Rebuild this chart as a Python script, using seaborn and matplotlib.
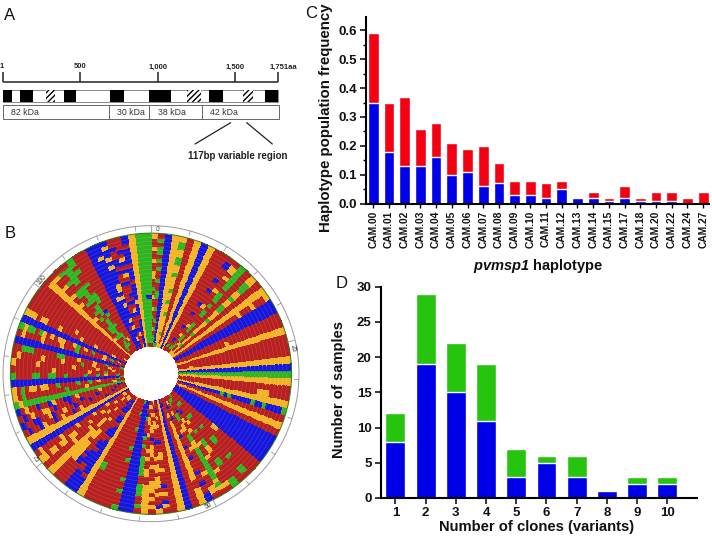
import numpy as np
import pandas as pd
import seaborn as sns
import matplotlib as mpl
import matplotlib.pyplot as plt
from matplotlib.colors import ListedColormap
from matplotlib.patches import Rectangle

W, H = 712, 536

# panel C
haplotypes = ["CAM.00", "CAM.01", "CAM.02", "CAM.03", "CAM.04", "CAM.05", "CAM.06", "CAM.07",
              "CAM.08", "CAM.09", "CAM.10", "CAM.11", "CAM.12", "CAM.13", "CAM.14", "CAM.15",
              "CAM.17", "CAM.18", "CAM.20", "CAM.22", "CAM.24", "CAM.27"]
freq_total = [.59, .35, .37, .26, .28, .21, .19, .20, .14, .08, .08, .07, .08, .02, .04, .02, .06, .02, .04, .04, .02, .04]
freq_blue = [.35, .18, .13, .13, .16, .10, .11, .06, .07, .03, .03, .02, .05, .02, .02, .01, .02, .01, .01, .01, 0, 0]

# panel D
clones = ["1", "2", "3", "4", "5", "6", "7", "8", "9", "10"]
samples_blue = [8, 19, 15, 11, 3, 5, 3, 1, 2, 2]
samples_green = [4, 10, 7, 8, 4, 1, 3, 0, 1, 1]

# panel A
scale_ticks = [8, 241, 473, 705, 835]
scale_labels = ["1", "500", "1,000", "1,500", "1,751aa"]
black_blocks = [(10, 37), (60, 100), (192, 229), (331, 371), (448, 513), (628, 668), (795, 835)]
hatch_blocks = [(137, 165), (562, 603), (730, 758)]
kda_dividers = [327, 448, 607]
kda_labels = ["82 kDa", "30 kDa", "38 kDa", "42 kDa"]
kda_label_x = [74, 393, 515, 673]

# panel B: one string per position (117), read inner ring to outer ring (28)
spokes = [
    "RGRRYRRGRYRRYRGRRYYRRYRRYRRY", "RGGRGRGRRGRRGGRRGRRGRGRGGRGR", "GBBBBBBBBBBBBBBBBBBBBBBBBBBB",
    "GYYYYYYYYYYYYYYYYYYYYYYYYYYY", "YYYGYYYYGYYGYYGYYYGYYGGYYGGY", "YRRRRRRRRRRRRRRRRRRRRRRRRRRR",
    "YYYYYYYYYYYYYYYYYYYYYYYYYYYY", "BBBBBBBBBBBBBBBBBBBBBBBBBBBB", "YYYYYYYYYYYYYYYYYYYYYYYYYYYY",
    "RBRRRRRRRRRRRRRRRRRRRRRRRRRR", "RGRRRRRRRRRRRRRRRRRRRRRRRRRR", "RRRBRRRBRRRBRRBRRRBRRBRRRBBR",
    "RGRRRYRRYRRRRRYRRRRYRRRYRYYR", "RGGRGGRGGGRRGGRGRGGGRGGGGGGG", "YRRYRRRRRRRRRRRRRRRRRRRRRRRR",
    "YYYGYYYGYYYYGYYYGGYYGYYGGGYY", "YRRRRRRRRRRRRRRRRRRRRRRRRRRR", "YYYYYYYYYYYYYYYYYYYYYYYYYYYY",
    "RRRRRRRRRRRRRRRRRRRYRRRYRRRY", "BBBBBBBBBBBBBBBBBBBBBBBBBBBB", "BBBBBBBBBBBBBBBBBBBBBBBBBBBB",
    "RRRRRRRRRRRRRRRRRRRRRRRRRRRR", "RRRRRRRRRRRRRYRRRRRRRRRRRRRR", "YYYYYYYYYYYYYYYYYYYYYYYYYYYY",
    "RRRRRRRRRRRRRRRRRRRRRRRRRRRR", "RRRRRRRRRRRRRRRRRRRRRRRRRRRR", "RRRYRRRRRRRRRRRRRRRRRRRRRRRR",
    "YYYYYYYYYYYYYYYYYYYYYYYYYYYY", "BBBBBBBBBBBBBBBBBBBBBBBBBBBB", "GGGGGGGGGGGGGGGGGGGGGGGGGGGG",
    "YYYYYYYYYYYYYYYYYYYYYYYYYYYY", "RRRRRRRRRRRRRRRRRRRRRRRRRRRR", "RRRRRRRRRRRRRRRRRRRRYYYRRRRR",
    "YYYYYYYYYYYYYYYYYYYYYYYYYYYY", "BBBBBBBBBBBGBGBBBBBGBBGBBBBG", "RRRRRRRRRRRRRRRRRRRRRRRRRRRR",
    "YYYYYYYYYYYYYYYYYYYYYYYYYYYY", "RRRRRRRRRRRRRRRRRRRRRRRRRRRR", "BBBBBBBBBBBBBBBBBBBBBBBBBBBB",
    "BBBBBBBBBBBBBBBBBBBBBBBBBBBB", "BBBBBBBBBBBBBBBBBBBBBBBBBBBB", "BBBBBBBBBBBBBBBBBBBBBBBBBBBB",
    "RRRRRRRRRRRRRYYRRRRRRRRRRRRR", "RRRRRRRRRRRRRRRRRRRRRRRRRRRR", "RRRGRRRGRRRGRRRGGRRRRGRRRGGR",
    "GRRGRRRGRRRRRRRRRRRRRRRRRRRR", "RGRRRBRRYRRGRRGGYYRRGGRRRRGG", "RGRRBRRYRRYRRRYRRRYRRRYRRRYR",
    "RRGRRGGRYYRGGYYGGGGGGGGGYGYR", "RYRRYRRRRYRRRRYRRRRRRYRRRYYR", "RRBRRBRRRRBRRBRRBRRRBRRBRRBB",
    "RRRRYRYYYYYYYYYYYYYYYYRRYYYY", "RBRRRRRRRRRRRRRRRRRRRRRRRRRR", "BBBBBBBBBBBBBBBBBBBBBBBBBBBB",
    "YYYYYYYYYYYYYYYYYYYYYYYYYYYY", "BRRRRRRRRRRRRRRRRRRRRRRRRRRR", "RRBRYRYRRRBRRYYRRYRRRBRYRBYR",
    "YRRYRYYRRRBRRRYRYYRYYYRYRRBY", "RYRYRRYYRBRYYYRRYRRRYYYRYRYR", "RYRRYYRRYRRRYRYRRYYRRYYYYYYY",
    "BBRBGRRRBGRGRRGGGGGRRGGGRRGR", "BBBBBBBBBBBBBBBBBBBBBBBBBBBB", "GBBBBBBBBBBBBBBBBBBBBBBBBBBB",
    "RRRGRRRGRRRRGRRGRRRRGRRGRRRG", "RRRRRRRRRRRRRRRRRRRRRRRRRRRR", "RRRRRRRRRRRRRRRRRRRRRRRRRRRR",
    "RRRRRRRRRRRRRRRRRRRRRRRRRRRR", "RRRRRRRRRRRRRRRRRRGGRRRRRRRR", "YYYYYYYYYYYYYYYYYYYYYYYYYYYY",
    "RBBBBRBBRBBBRBBBBBBBBBBRBBBB", "RBRBBRBBRRBBRRBBRBBBBRRBBBBB", "RRBRBRRRRRRRRRRRRRBRBBRRRRRR",
    "RYRRRRRRYRRRYYYRYYYYYYRRRRRR", "RYRRRYRRRYYYRYYYYYYYYYYYYYYY", "RRYRRRRYRRRRRYRRRRYRRRRRRRRR",
    "RYRRYRRRYRRRYRRRRYYRYYRYYRYY", "RYRRRRYRRRYRRRRYRRRRYRRRRRYR", "BBBBBBBBBBBBBBBBBBBBBBBBBBBB",
    "YYYYYYYYYYYYYYYYYYYYYYYYYYYY", "RRRRRBRRRRRRYRBRRYRBRRYBRRBR", "RRRBRRRRRBRRRBRRYRRBYRRBBRRB",
    "RRBRRRRBRRRBRRBRRRBRYYRRYRBR", "RBRRRRYRRRRRYRBBRRYBRRBRRYRB", "GGGGGGGGGGGGGGGGGGGGGGGGGGYG",
    "RRYRRRRRRYRRRRGRRRRRRRRRRGRY", "RGRRRRYRGRRGRRRRGRRYYRYYRGRY", "GBBBBBBBBBBBBBBBBBBBBBBBBBBB",
    "RGRRYRGRRGRRRRGRRGGRRGGRRRRG", "RRRRGRRRYRRRRRRRRYRRRRRRRRRR", "RRYRRRYRRRRRYRRRRRRRRYRRRRRY",
    "RRRYRRRYRRGRRRRYRRRRYRRRRRYR", "GRRRGRRYRRRYRRRGGRRRRRRGGGRR", "BBBBBBBBBBBBBBBBBBBBBBBBBBBB",
    "RRRRRYRRRRRRGRRRYRRRRYRRRRYR", "RYRGRYRRGRYRGYRRYYRYRYGRGGYG", "BBBBBBBBBBBBBBBBBBBBBBBBBBBB",
    "RRRYRRRRYRRRYRRRRRYRRRYYRYYY", "YRRRRRRRRRRRRRYRRRRRRRRRRRRR", "RRRRRRRRRRRRRRRRRRRRRRRRRRRR",
    "RRRRRRRRRRRRRRRRRRRRRRRRRRRR", "RRRRRRRRRRRRRRRRRRRRRRRRRRRR", "YYYYYYYYYYYYYYYYYYYYYYYYYYYR",
    "RRRRRYRRRRRRYRRRRYRRYRRYRRYR", "RGGRRGRGGRRGRGRRGRRGGRRGRRGR", "RRGGRGGGGGGRGGGRGGGGGRGGGGGR",
    "RRGRGGRRGRRGBRRGGGRRGRRRGRGG", "RRRYRRRRRRRRRRRRRRRRRRRRRRRR", "RRRRRRRRRRRRRRRRRRRRRRRRRRRR",
    "BBBBBBBBBBBBBBBBBBBBBBBBBBBB", "RBBBBRBBBBBBBYBBBBBBBBBBYBBB", "BBYBBYBYBBBYBYBYYBBBBYBYBBYB",
    "RRRRBRRRBRRBRRRRBRRBRBBRRBRR", "YRRYBRRRBYRBRBRRBRYBRBYRBRRR", "BBBRBBBRBBBYBBBBRBBBRBBBBRBB",
    "YYYYYYYYYYYYYYYYYYYYYYYYYYYY", "GGGGGGGGGGGGGGGGGGGGGGGGGGGG", "RGGGGGGGGGGGBGGGGGGGGGGGGGGG",
]
position_labels = [0, 25, 50, 75, 100]

RED_BAR, BLUE_BAR, GREEN_BAR = "#f40012", "#0000e8", "#26c30f"
nuc_colors = {"R": "#b7201f", "Y": "#f4b324", "G": "#30b41f", "B": "#1616dc"}
TXT = "#111111"


def box(l, t, r, b):
    # pixel box to figure fractions
    return [l / W, 1 - b / H, (r - l) / W, (b - t) / H]


sns.set_style("ticks")
plt.rcParams["font.family"] = ["Liberation Sans", "DejaVu Sans"]
plt.rcParams["mathtext.fontset"] = "custom"
plt.rcParams["mathtext.bfit"] = "Liberation Sans:italic:bold"
plt.rcParams["mathtext.rm"] = "Liberation Sans:bold"
plt.rcParams["hatch.linewidth"] = 1.0

fig = plt.figure(figsize=(W / 100, H / 100), dpi=100)

# backdrop in pixels, for panel A and the letters
bg = fig.add_axes([0, 0, 1, 1])
bg.set_xlim(0, W)
bg.set_ylim(H, 0)
bg.axis("off")

for letter, x, y in [("A", 10, 15), ("B", 10, 233), ("C", 311, 14), ("D", 342, 284)]:
    bg.text(x, y, letter, fontsize=12, ha="center", va="center", color=TXT)

bg.plot([8 / 3, 835 / 3], [82, 82], color="#222222", lw=1.1, solid_capstyle="butt")
for t, lab in zip(scale_ticks, scale_labels):
    bg.plot([t / 3, t / 3], [72, 82], color="#222222", lw=1.1, solid_capstyle="butt")
    bg.text(t / 3 + (5 if lab == "1,751aa" else 0) - (1 if lab == "1" else 0), 67, lab,
            fontsize=5.5, fontweight="bold", ha="center", va="center", color="#222222")

bg.add_patch(Rectangle((10 / 3, 90), 825 / 3, 12.3, fc="white", ec="#8a8a8a", lw=0.7))
for a, b in black_blocks:
    bg.add_patch(Rectangle((a / 3, 90), (b - a) / 3, 12.3, fc="black", ec="none"))
for a, b in hatch_blocks:
    bg.add_patch(Rectangle((a / 3, 90), (b - a) / 3, 12.3, fc="white", ec="black", lw=0, hatch="//////"))

bg.add_patch(Rectangle((10 / 3, 105.3), 827 / 3, 13.4, fc="white", ec="#666666", lw=0.7))
for d in kda_dividers:
    bg.plot([d / 3, d / 3], [105.3, 118.7], color="#666666", lw=0.7)
for lab, x in zip(kda_labels, kda_label_x):
    bg.text(x / 3, 112.3, lab, fontsize=6.3, ha="center", va="center", color="#333333")

bg.plot([692 / 3, 585 / 3], [368 / 3, 432 / 3], color="#222222", lw=0.9)
bg.plot([740 / 3, 817 / 3], [368 / 3, 432 / 3], color="#222222", lw=0.9)
bg.text(238, 156, "117bp variable region", fontsize=7, fontweight="bold", ha="center", va="center", color="#222222")

# panel B
pol = fig.add_axes(box(1, 223.7, 301, 523.7), projection="polar")
pol.set_theta_zero_location("N")
pol.set_theta_direction(-1)
pol.set_ylim(0, 150)
pol.axis("off")

letters = list(nuc_colors)
grid = np.array([[letters.index(c) for c in s] for s in spokes]).T
theta_edges = np.deg2rad(np.linspace(0, 360, len(spokes) + 1))
r_edges = np.linspace(28, 140, grid.shape[0] + 1)
pol.pcolormesh(theta_edges, r_edges, grid, cmap=ListedColormap(list(nuc_colors.values())),
               vmin=-0.5, vmax=3.5, edgecolors="face", linewidth=0.25)
# faint ring lines give the fine texture of the original
for r in r_edges[1:-1]:
    pol.plot(np.linspace(0, 2 * np.pi, 240), np.full(240, r), color="white", lw=0.25, alpha=0.3)

circle = np.linspace(0, 2 * np.pi, 400)
pol.plot(circle, np.full(400, 140.6), color="#2f7d22", lw=0.7)
pol.plot(circle, np.full(400, 148), color="#9a9a9a", lw=0.7)
for u in range(0, len(spokes), 5):
    th = u * 2 * np.pi / len(spokes)
    inner = 140 if u in position_labels else 143.5
    pol.plot([th, th], [inner, 148], color="#9a9a9a", lw=0.6)
for u in position_labels:
    th = (u + 0.9) * 2 * np.pi / len(spokes)
    deg = np.rad2deg(th)
    rot = -deg + 180 if 90 < deg < 270 else -deg
    pol.text(th, 144, str(u), fontsize=4.8, color="#333333", rotation=rot, rotation_mode="anchor",
             ha="center", va="center")

# panel C
ax_c = fig.add_axes(box(365.7, 16.7, 709, 203.7))
df_c = pd.DataFrame({"haplotype": haplotypes, "total": freq_total, "blue": freq_blue})
sns.barplot(data=df_c, x="haplotype", y="total", color=RED_BAR, saturation=1, width=0.68, ax=ax_c)
sns.barplot(data=df_c, x="haplotype", y="blue", color=BLUE_BAR, saturation=1, width=0.68, ax=ax_c)
ax_c.set_xlim(-0.48, 21.37)
ax_c.set_ylim(0, 0.647)
ax_c.set_yticks([0, .1, .2, .3, .4, .5, .6])
ax_c.set_yticks(np.arange(0.05, 0.65, 0.1), minor=True)
ax_c.set_yticklabels(["0.0", "0.1", "0.2", "0.3", "0.4", "0.5", "0.6"], fontsize=9.5, fontweight="bold", color=TXT)
ax_c.tick_params(axis="y", which="major", length=4.5, width=1.1, pad=2, color="black")
ax_c.tick_params(axis="y", which="minor", length=2.5, width=1.0, color="black")
ax_c.tick_params(axis="x", length=3, width=1.0, pad=2, color="black")
plt.setp(ax_c.get_xticklabels(), rotation=90, fontsize=7.4, fontweight="bold", color=TXT)
ax_c.set_ylabel("Haplotype population frequency", fontsize=10.8, fontweight="bold", color=TXT)
ax_c.set_xlabel(r"$\mathbfit{pvmsp1}$ haplotype", fontsize=10.5, fontweight="bold", color=TXT)
ax_c.yaxis.set_label_coords(333 / W, 1 - 118 / H, transform=fig.transFigure)
ax_c.xaxis.set_label_coords(538 / W, 1 - 257 / H, transform=fig.transFigure)

# panel D
ax_d = fig.add_axes(box(380.7, 286.7, 696.7, 498))
df_d = pd.DataFrame({"clones": clones, "blue": samples_blue, "green": samples_green})
df_d["total"] = df_d["blue"] + df_d["green"]
sns.barplot(data=df_d, x="clones", y="total", color=GREEN_BAR, saturation=1, width=0.66, ax=ax_d)
sns.barplot(data=df_d, x="clones", y="blue", color=BLUE_BAR, saturation=1, width=0.66, ax=ax_d)
ax_d.set_xlim(-0.485, 9.97)
ax_d.set_ylim(0, 30)
ax_d.set_yticks(range(0, 31, 5))
ax_d.set_yticklabels([str(v) for v in range(0, 31, 5)], fontsize=9.5, fontweight="bold", color=TXT)
ax_d.tick_params(axis="both", length=4.5, width=1.1, pad=2, color="black")
plt.setp(ax_d.get_xticklabels(), fontsize=9.5, fontweight="bold", color=TXT)
ax_d.set_ylabel("Number of samples", fontsize=10.6, fontweight="bold", color=TXT)
ax_d.set_xlabel("Number of clones (variants)", fontsize=10.6, fontweight="bold", color=TXT)
ax_d.yaxis.set_label_coords(346 / W, 1 - 390 / H, transform=fig.transFigure)
ax_d.xaxis.set_label_coords(537 / W, 1 - 520 / H, transform=fig.transFigure)

for ax in (ax_c, ax_d):
    sns.despine(ax=ax)
    ax.patch.set_alpha(0)
    ax.spines["left"].set_linewidth(1.5)
    ax.spines["bottom"].set_linewidth(1.5)
    ax.spines["left"].set_color("black")
    ax.spines["bottom"].set_color("black")

fig.savefig("out.png", dpi=100)
